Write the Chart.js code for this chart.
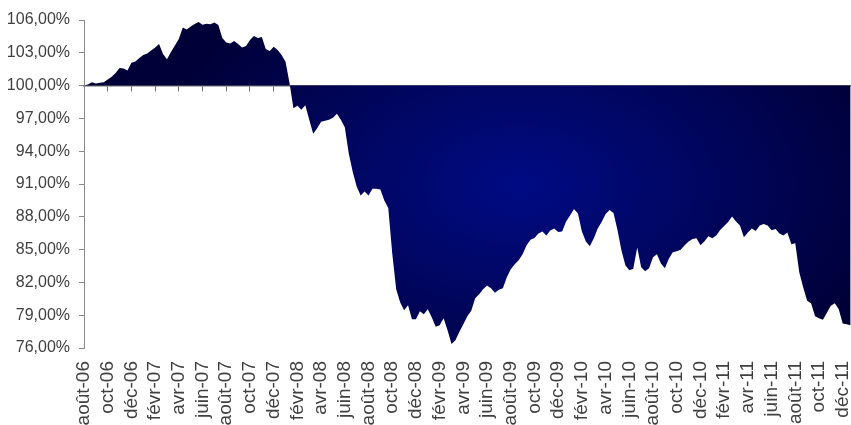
<!DOCTYPE html>
<html lang="fr">

<head>
    <meta charset="UTF-8">
    <title>Performance</title>
    <script src="https://cdn.jsdelivr.net/npm/chart.js"></script>
</head>
<style>
    html, body {
        margin: 0;
        padding: 0;
        background: #fff;
        overflow: hidden;
    }

    .chart-container {
        position: relative;
        width: 851px;
        height: 425px;
    }
</style>

<body>
    <div class="chart-container">
        <canvas id="chart"></canvas>
    </div>

    <script>
        // mois affichés sur l'axe (un sur deux)
        const tickLabels = ['août-06', 'oct-06', 'déc-06', 'févr-07', 'avr-07', 'juin-07', 'août-07', 'oct-07', 'déc-07',
            'févr-08', 'avr-08', 'juin-08', 'août-08', 'oct-08', 'déc-08', 'févr-09', 'avr-09', 'juin-09', 'août-09',
            'oct-09', 'déc-09', 'févr-10', 'avr-10', 'juin-10', 'août-10', 'oct-10', 'déc-10', 'févr-11', 'avr-11',
            'juin-11', 'août-11', 'oct-11', 'déc-11'];

        // 3 relevés par mois, en % de la base 100
        const pointsPerMonth = 3;
        const perf2006 = [100.00, 100.09, 100.30, 100.19, 100.25, 100.30, 100.55, 100.80, 101.16, 101.62, 101.57, 101.39, 102.08, 102.21, 102.53];
        const perf2007 = [102.81, 102.94, 103.22, 103.49, 103.81, 102.90, 102.41, 103.08, 103.67, 104.26, 105.31, 105.13,
            105.40, 105.63, 105.82, 105.56, 105.66, 105.61, 105.77, 105.54, 104.36, 103.95, 103.84, 104.08,
            103.81, 103.49, 103.63, 104.17, 104.54, 104.36, 104.45, 103.35, 103.17, 103.55, 103.26, 102.81];
        const perf2008 = [102.17, 100.25, 97.93, 98.15, 97.79, 98.20, 96.88, 95.60, 96.10, 96.70, 96.79, 96.88,
            97.06, 97.42, 96.88, 96.19, 93.78, 92.13, 90.77, 89.95, 90.31, 89.95, 90.56, 90.56,
            90.49, 89.49, 88.81, 84.66, 81.37, 80.19, 79.46, 79.91, 78.64, 78.64, 79.37, 79.09];
        const perf2009 = [79.55, 78.82, 77.95, 78.09, 78.73, 77.63, 76.36, 76.72, 77.48, 78.18, 78.91, 79.41,
            80.55, 80.92, 81.37, 81.71, 81.46, 81.05, 81.33, 81.46, 82.47, 83.20, 83.65, 84.02,
            84.57, 85.39, 85.89, 86.07, 86.48, 86.66, 86.30, 86.75, 86.94, 86.62, 86.66, 87.58];
        const perf2010 = [88.12, 88.72, 88.30, 86.66, 85.75, 85.30, 86.02, 86.94, 87.53, 88.26, 88.62, 88.35,
            86.80, 84.93, 83.56, 83.11, 83.24, 85.20, 83.38, 83.02, 83.29, 84.29, 84.57, 83.74,
            83.29, 84.16, 84.75, 84.84, 84.98, 85.39, 85.75, 85.98, 86.03, 85.39, 85.75, 86.21];
        const perf2011 = [86.03, 86.30, 86.80, 87.16, 87.53, 88.03, 87.58, 87.21, 86.12, 86.57, 86.94, 86.71,
            87.21, 87.35, 87.21, 86.76, 86.89, 86.48, 86.30, 86.57, 85.48, 85.57, 82.92, 81.56,
            80.32, 80.10, 78.91, 78.73, 78.59, 79.23, 79.87, 80.10, 79.55, 78.23, 78.18, 78.09];

        const values = [...perf2006, ...perf2007, ...perf2008, ...perf2009, ...perf2010, ...perf2011];
        const points = values.map((v, i) => ({ x: i / pointsPerMonth, y: v }));
        const lastMonth = 64.7;

        Chart.defaults.font.family = '"Liberation Sans", Arial, sans-serif';

        // dégradé radial (elliptique) bleu nuit
        let fillCache = null;
        function navyFill(chart) {
            const w = chart.width, h = chart.height;
            if (fillCache && fillCache.w === w && fillCache.h === h) return fillCache.pattern;
            const off = document.createElement('canvas');
            off.width = w;
            off.height = h;
            const g = off.getContext('2d');
            const sx = 1.6;
            g.setTransform(sx, 0, 0, 1, 0, 0);
            const grad = g.createRadialGradient(520 / sx, 185, 0, 520 / sx, 185, 235);
            grad.addColorStop(0, 'rgb(0, 11, 132)');
            grad.addColorStop(1, 'rgb(0, 0, 56)');
            g.fillStyle = grad;
            g.fillRect(0, 0, w / sx, h);
            const pattern = chart.ctx.createPattern(off, 'no-repeat');
            fillCache = { w, h, pattern };
            return pattern;
        }

        const ctx = document.getElementById('chart').getContext('2d');
        const chart = new Chart(ctx, {
            type: 'line',
            data: {
                datasets: [{
                    data: points,
                    fill: { value: 100 },
                    backgroundColor: (c) => c.chart.chartArea ? navyFill(c.chart) : '#000060',
                    borderColor: 'rgba(0,0,0,0)',
                    borderWidth: 0,
                    pointRadius: 0,
                    tension: 0
                }]
            },
            options: {
                responsive: true,
                maintainAspectRatio: false,
                animation: false,
                layout: { padding: { top: 20, right: 0, left: 0, bottom: 0 } },
                plugins: {
                    legend: { display: false },
                    tooltip: { enabled: false }
                },
                scales: {
                    x: {
                        type: 'linear',
                        position: 'bottom',
                        min: 0,
                        max: lastMonth,
                        grid: { display: false, drawTicks: false },
                        border: { display: false },
                        ticks: {
                            stepSize: 2,
                            includeBounds: false,
                            autoSkip: false,
                            maxRotation: 90,
                            minRotation: 90,
                            padding: 13,
                            color: '#404040',
                            font: { size: 19 },
                            callback: (v) => tickLabels[Math.round(v / 2)]
                        },
                        afterFit: (scale) => {
                            scale.height = 77;
                            scale.paddingLeft = 0;
                            scale.paddingRight = 0;
                        }
                    },
                    xBase: {
                        type: 'linear',
                        position: { y: 100 },
                        min: 0,
                        max: lastMonth,
                        grid: { drawOnChartArea: false, drawTicks: true, tickLength: 5, color: '#6f6f6f' },
                        border: { display: true, color: '#6f6f6f', width: 1.5 },
                        ticks: { display: false, stepSize: 2, includeBounds: false, autoSkip: false }
                    },
                    y: {
                        min: 76,
                        max: 106,
                        grid: { drawOnChartArea: false, drawTicks: true, tickLength: 5, color: '#8a8a8a' },
                        border: { display: true, color: '#8a8a8a', width: 1 },
                        ticks: {
                            stepSize: 3,
                            padding: 9,
                            color: '#404040',
                            font: { size: 16 },
                            callback: (v) => v.toFixed(2).replace('.', ',') + '%'
                        },
                        afterFit: (scale) => { scale.width = 84; }
                    }
                }
            }
        });
    </script>
</body>

</html>
